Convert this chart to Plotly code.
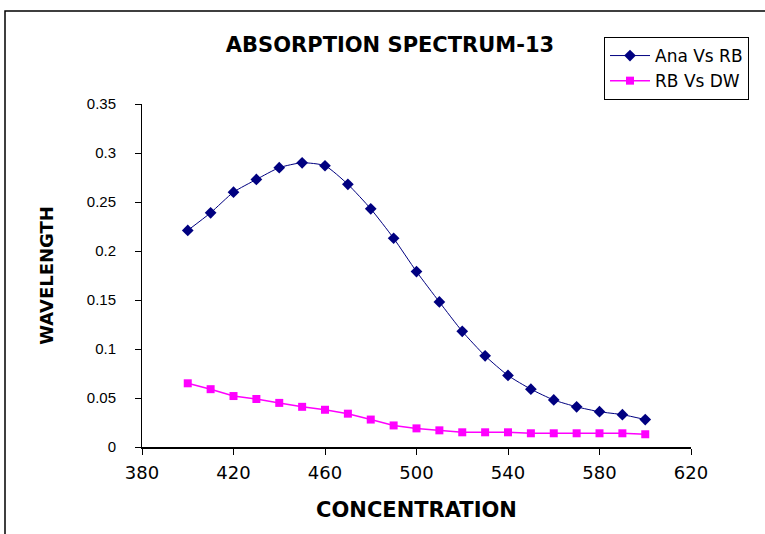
import plotly.graph_objects as go

wavelength_nm = [400, 410, 420, 430, 440, 450, 460, 470, 480, 490, 500,
                 510, 520, 530, 540, 550, 560, 570, 580, 590, 600]
ana_vs_rb = [0.221, 0.239, 0.260, 0.273, 0.285, 0.290, 0.287, 0.268, 0.243, 0.213, 0.179,
             0.148, 0.118, 0.093, 0.073, 0.059, 0.048, 0.041, 0.036, 0.033, 0.028]
rb_vs_dw = [0.065, 0.059, 0.052, 0.049, 0.045, 0.041, 0.038, 0.034, 0.028, 0.022, 0.019,
            0.017, 0.015, 0.015, 0.015, 0.014, 0.014, 0.014, 0.014, 0.014, 0.013]
x_ticks = [380, 420, 460, 500, 540, 580, 620]
y_ticks = [0, 0.05, 0.1, 0.15, 0.2, 0.25, 0.3, 0.35]

W, H = 765, 534
L, R, T, B = 142, 691, 104, 447  # plot area in pixels

def px_x(px):
    return (px - L) / (R - L)

def px_y(py):
    return (B - py) / (B - T)

FONT = "Liberation Sans, Arial, sans-serif"
WIDE = "DejaVu Sans, Verdana, sans-serif"

fig = go.Figure()
fig.add_trace(go.Scatter(
    x=wavelength_nm, y=ana_vs_rb, name="Ana Vs RB", mode="lines+markers",
    line=dict(color="#000080", width=1, shape="spline", smoothing=0.6),
    marker=dict(symbol="diamond", size=9, color="#000080"),
))
fig.add_trace(go.Scatter(
    x=wavelength_nm, y=rb_vs_dw, name="RB Vs DW", mode="lines+markers",
    line=dict(color="#FF00FF", width=1.5),
    marker=dict(symbol="square", size=8, color="#FF00FF"),
))

fig.update_layout(
    width=W, height=H,
    margin=dict(l=L, r=W - R, t=T, b=H - B, pad=0),
    paper_bgcolor="white", plot_bgcolor="white",
    font=dict(family=FONT, color="black", size=13),
    title=dict(text="<b>ABSORPTION SPECTRUM-13</b>", x=390 / W, xref="container",
               xanchor="center", y=1 - 45 / H, yref="container", yanchor="middle",
               font=dict(size=21, family=WIDE, color="black")),
    legend=dict(x=px_x(604), y=px_y(37), xanchor="left", yanchor="top",
                bordercolor="black", borderwidth=1, bgcolor="white",
                font=dict(size=17, family=WIDE), tracegroupgap=0,
                itemwidth=40),
    showlegend=True,
)
fig.update_xaxes(
    range=[380, 620], tickvals=x_ticks, ticktext=[str(v) for v in x_ticks],
    showgrid=False, zeroline=False, showline=True, linecolor="black", linewidth=2,
    ticks="outside", ticklen=6, tickcolor="black", tickwidth=1,
    ticklabelstandoff=2, tickfont=dict(size=18, family=WIDE),
    title=dict(text="<b>CONCENTRATION</b>", standoff=21,
               font=dict(size=21, family=WIDE)),
)
fig.update_yaxes(
    range=[0, 0.35], tickvals=y_ticks, ticktext=[("%g" % v) for v in y_ticks],
    showgrid=False, zeroline=False, showline=True, linecolor="black", linewidth=1,
    ticks="outside", ticklen=6, tickcolor="black", tickwidth=1,
    ticklabelstandoff=16, tickfont=dict(size=15, family=FONT),
    title=dict(text="<b>WAVELENGTH</b>", standoff=28,
               font=dict(size=18, family=WIDE)),
)
# outer chart frame (cropped at right/bottom)
fig.add_shape(type="rect", xref="paper", yref="paper",
              x0=px_x(5), x1=px_x(780), y0=px_y(560), y1=px_y(11),
              line=dict(color="black", width=1.5), fillcolor="rgba(0,0,0,0)",
              layer="below")

fig.write_html("out.html")
